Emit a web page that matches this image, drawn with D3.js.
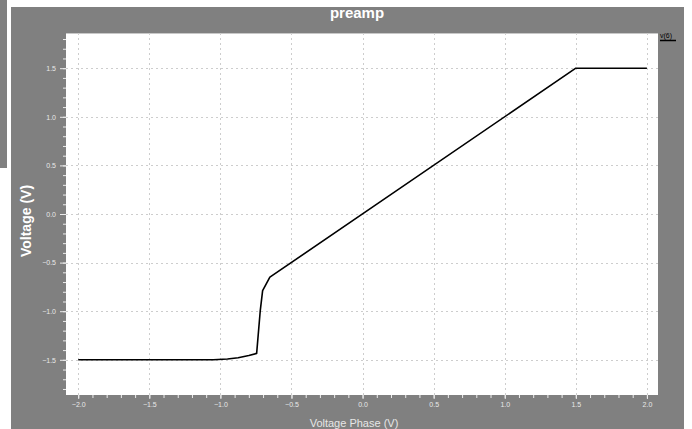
<!DOCTYPE html>
<html><head><meta charset="utf-8">
<script src="https://cdn.jsdelivr.net/npm/d3@7"></script>
<style>
html,body{margin:0;padding:0;background:#fff;}
svg{display:block;}
</style></head>
<body>
<svg id="chart" width="692" height="429"></svg>
<script>
// Data
const title = "preamp";
const xLabel = "Voltage Phase (V)";
const yLabel = "Voltage (V)";
const seriesName = "v(6)";
const xValues = [-2.0, -1.05, -0.95, -0.875, -0.8, -0.745, -0.72, -0.703, -0.652, 1.5, 2.0];
const yValues = [-1.5, -1.5, -1.492, -1.478, -1.455, -1.434, -1.0, -0.789, -0.65, 1.5, 1.5];
const xTicks = [-2.0, -1.5, -1.0, -0.5, 0.0, 0.5, 1.0, 1.5, 2.0];
const yTicks = [-1.5, -1.0, -0.5, 0.0, 0.5, 1.0, 1.5];

const svg = d3.select("#chart");
const W = 692, H = 429;
const plot = {left: 66, right: 658, top: 33, bottom: 395};

// backgrounds
svg.append("rect").attr("x", 0).attr("y", 0).attr("width", 7).attr("height", 168).attr("fill", "#808080");
svg.append("rect").attr("x", 11).attr("y", 7).attr("width", 673).attr("height", H - 7).attr("fill", "#808080");
svg.append("rect").attr("x", plot.left).attr("y", plot.top).attr("width", plot.right - plot.left).attr("height", plot.bottom - plot.top).attr("fill", "#fff");
svg.append("line").attr("x1", plot.left).attr("x2", plot.right).attr("y1", plot.top + 0.5).attr("y2", plot.top + 0.5).attr("stroke", "#c8c8c8");

const x = d3.scaleLinear().domain([-2.086, 2.078]).range([plot.left, plot.right]);
const y = d3.scaleLinear().domain([-1.862, 1.862]).range([plot.bottom, plot.top]);

// grid
const grid = svg.append("g").attr("stroke", "#cdcdcd").attr("stroke-dasharray", "2,3").attr("stroke-width", 1);
xTicks.forEach(v => grid.append("line").attr("x1", Math.round(x(v)) + 0.5).attr("x2", Math.round(x(v)) + 0.5).attr("y1", plot.top).attr("y2", plot.bottom));
yTicks.forEach(v => grid.append("line").attr("y1", Math.round(y(v)) + 0.5).attr("y2", Math.round(y(v)) + 0.5).attr("x1", plot.left).attr("x2", plot.right));

// axes
const minorX = d3.range(-20, 21).map(d => d / 10);
const minorY = d3.range(-18, 19).map(d => d / 10);
const axX = svg.append("g").attr("transform", `translate(0,${plot.bottom})`)
  .call(d3.axisBottom(x).tickValues(minorX).tickSize(3).tickFormat(""));
const axX2 = svg.append("g").attr("transform", `translate(0,${plot.bottom})`)
  .call(d3.axisBottom(x).tickValues(xTicks).tickSize(4).tickPadding(3).tickFormat(d3.format(".1f")));
const axY = svg.append("g").attr("transform", `translate(${plot.left},0)`)
  .call(d3.axisLeft(y).tickValues(minorY).tickSize(3).tickFormat(""));
const axY2 = svg.append("g").attr("transform", `translate(${plot.left},0)`)
  .call(d3.axisLeft(y).tickValues(yTicks).tickSize(6).tickPadding(4).tickFormat(d3.format(".1f")));
[axX, axX2, axY, axY2].forEach(a => {
  a.select(".domain").remove();
  a.selectAll(".tick line").attr("stroke", "#ececec");
  a.selectAll(".tick text").attr("fill", "#e8e8e8").attr("font-family", "Liberation Sans, Arial, sans-serif").attr("font-size", 7);
});

// line
const pts = xValues.map((v, i) => [v, yValues[i]]);
svg.append("path").datum(pts)
  .attr("d", d3.line().x(d => x(d[0])).y(d => y(d[1])))
  .attr("fill", "none").attr("stroke", "#000").attr("stroke-width", 1.6).attr("stroke-linejoin", "round");

// texts
svg.append("text").attr("x", 357).attr("y", 18).attr("text-anchor", "middle")
  .attr("font-family", "Liberation Sans, Arial, sans-serif").attr("font-weight", "bold").attr("font-size", 15).attr("fill", "#fff").text(title);
svg.append("text").attr("transform", "translate(31,221) rotate(-90)").attr("text-anchor", "middle")
  .attr("font-family", "Liberation Sans, Arial, sans-serif").attr("font-weight", "bold").attr("font-size", 14).attr("fill", "#fff").text(yLabel);
svg.append("text").attr("x", 354).attr("y", 427).attr("text-anchor", "middle")
  .attr("font-family", "Liberation Sans, Arial, sans-serif").attr("font-size", 11).attr("fill", "#e6e6e6").text(xLabel);
svg.append("text").attr("x", 660).attr("y", 38)
  .attr("font-family", "Liberation Sans, Arial, sans-serif").attr("font-size", 7).attr("fill", "#000").text(seriesName);
svg.append("line").attr("x1", 660).attr("x2", 676).attr("y1", 40.5).attr("y2", 40.5).attr("stroke", "#000").attr("stroke-width", 1.5);
</script>
</body></html>
